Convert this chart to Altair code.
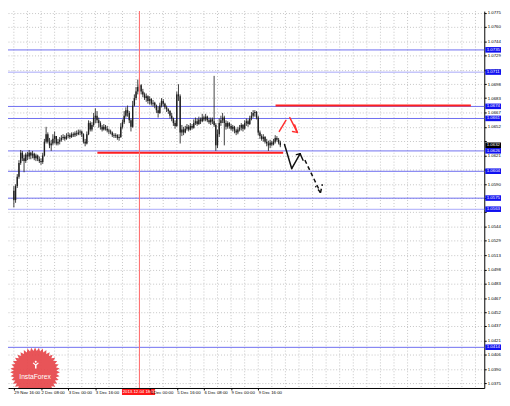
import json
import math
import altair as alt
import pandas as pd

# ---------------- data ----------------
first_open = 1.0583
closes = [1.0573, 1.0588, 1.0598, 1.0613, 1.0624, 1.0618, 1.0615, 1.0622, 1.0620, 1.0624,
          1.0621, 1.0623, 1.0618, 1.0621, 1.0617, 1.0615, 1.0614, 1.0621, 1.0636, 1.0644,
          1.0636, 1.0632, 1.0634, 1.0639, 1.0642, 1.0634, 1.0636, 1.0638, 1.0640, 1.0641,
          1.0639, 1.0642, 1.0643, 1.0641, 1.0644, 1.0643, 1.0645, 1.0644, 1.0646, 1.0647,
          1.0644, 1.0636, 1.0634, 1.0644, 1.0656, 1.0649, 1.0654, 1.0662, 1.0664, 1.0659,
          1.0656, 1.0652, 1.0649, 1.0652, 1.0650, 1.0648, 1.0647, 1.0646, 1.0643, 1.0642,
          1.0643, 1.0640, 1.0641, 1.0652, 1.0657, 1.0664, 1.0670, 1.0667, 1.0659, 1.0652,
          1.0675, 1.0683, 1.0690, 1.0695, 1.0697, 1.0690, 1.0687, 1.0683, 1.0685, 1.0680,
          1.0682, 1.0677, 1.0678, 1.0675, 1.0670, 1.0667, 1.0675, 1.0680, 1.0677, 1.0673,
          1.0671, 1.0669, 1.0664, 1.0661, 1.0656, 1.0653, 1.0687, 1.0685, 1.0646, 1.0649,
          1.0646, 1.0650, 1.0652, 1.0649, 1.0653, 1.0651, 1.0656, 1.0658, 1.0655, 1.0660,
          1.0658, 1.0662, 1.0660, 1.0663, 1.0659, 1.0657, 1.0660, 1.0658, 1.0654, 1.0632,
          1.0644, 1.0656, 1.0659, 1.0662, 1.0656, 1.0652, 1.0656, 1.0653, 1.0650, 1.0652,
          1.0648, 1.0646, 1.0649, 1.0651, 1.0654, 1.0650, 1.0656, 1.0658, 1.0655, 1.0661,
          1.0664, 1.0667, 1.0668, 1.0662, 1.0646, 1.0642, 1.0639, 1.0641, 1.0636, 1.0634,
          1.0632, 1.0635, 1.0633, 1.0636, 1.0640, 1.0638, 1.0635, 1.0632]
highs = [1.0588, 1.0590, 1.0601, 1.0616, 1.0627, 1.0626, 1.0622, 1.0624, 1.0625, 1.0627,
         1.0625, 1.0626, 1.0624, 1.0623, 1.0622, 1.0620, 1.0618, 1.0624, 1.0639, 1.0652,
         1.0646, 1.0640, 1.0638, 1.0644, 1.0647, 1.0642, 1.0639, 1.0641, 1.0643, 1.0644,
         1.0643, 1.0645, 1.0646, 1.0645, 1.0646, 1.0646, 1.0647, 1.0648, 1.0649, 1.0649,
         1.0648, 1.0645, 1.0639, 1.0647, 1.0659, 1.0658, 1.0657, 1.0667, 1.0672, 1.0669,
         1.0662, 1.0658, 1.0654, 1.0655, 1.0654, 1.0653, 1.0650, 1.0649, 1.0647, 1.0645,
         1.0645, 1.0644, 1.0644, 1.0656, 1.0660, 1.0669, 1.0673, 1.0675, 1.0669, 1.0661,
         1.0680, 1.0687, 1.0695, 1.0703, 1.0705, 1.0698, 1.0693, 1.0689, 1.0688, 1.0686,
         1.0685, 1.0683, 1.0681, 1.0679, 1.0676, 1.0674, 1.0678, 1.0683, 1.0682, 1.0678,
         1.0675, 1.0672, 1.0670, 1.0667, 1.0662, 1.0659, 1.0690, 1.0698, 1.0687, 1.0654,
         1.0652, 1.0653, 1.0655, 1.0654, 1.0656, 1.0655, 1.0660, 1.0662, 1.0661, 1.0663,
         1.0662, 1.0666, 1.0664, 1.0666, 1.0664, 1.0662, 1.0662, 1.0662, 1.0707, 1.0656,
         1.0649, 1.0661, 1.0664, 1.0667, 1.0664, 1.0659, 1.0658, 1.0657, 1.0655, 1.0654,
         1.0653, 1.0650, 1.0652, 1.0654, 1.0656, 1.0655, 1.0659, 1.0661, 1.0660, 1.0664,
         1.0668, 1.0670, 1.0670, 1.0669, 1.0664, 1.0648, 1.0644, 1.0644, 1.0642, 1.0639,
         1.0637, 1.0638, 1.0637, 1.0639, 1.0643, 1.0642, 1.0640, 1.0637]
lows = [1.0565, 1.0570, 1.0586, 1.0596, 1.0611, 1.0615, 1.0603, 1.0613, 1.0616, 1.0617,
        1.0617, 1.0618, 1.0616, 1.0615, 1.0615, 1.0613, 1.0611, 1.0612, 1.0620, 1.0634,
        1.0634, 1.0629, 1.0626, 1.0632, 1.0634, 1.0632, 1.0632, 1.0633, 1.0636, 1.0638,
        1.0637, 1.0638, 1.0640, 1.0639, 1.0640, 1.0641, 1.0641, 1.0642, 1.0643, 1.0643,
        1.0641, 1.0634, 1.0631, 1.0633, 1.0643, 1.0647, 1.0647, 1.0652, 1.0656, 1.0656,
        1.0651, 1.0649, 1.0647, 1.0648, 1.0648, 1.0646, 1.0644, 1.0644, 1.0641, 1.0640,
        1.0640, 1.0638, 1.0637, 1.0640, 1.0650, 1.0655, 1.0662, 1.0663, 1.0656, 1.0647,
        1.0651, 1.0674, 1.0681, 1.0687, 1.0690, 1.0687, 1.0684, 1.0681, 1.0679, 1.0677,
        1.0676, 1.0675, 1.0674, 1.0672, 1.0667, 1.0662, 1.0666, 1.0673, 1.0674, 1.0671,
        1.0668, 1.0666, 1.0661, 1.0658, 1.0653, 1.0650, 1.0652, 1.0680, 1.0634, 1.0642,
        1.0643, 1.0645, 1.0648, 1.0647, 1.0648, 1.0649, 1.0650, 1.0654, 1.0653, 1.0654,
        1.0655, 1.0657, 1.0658, 1.0658, 1.0657, 1.0655, 1.0654, 1.0655, 1.0652, 1.0626,
        1.0629, 1.0641, 1.0653, 1.0656, 1.0632, 1.0649, 1.0650, 1.0650, 1.0648, 1.0647,
        1.0645, 1.0643, 1.0644, 1.0647, 1.0648, 1.0647, 1.0649, 1.0653, 1.0652, 1.0654,
        1.0659, 1.0662, 1.0663, 1.0660, 1.0643, 1.0639, 1.0637, 1.0636, 1.0634, 1.0631,
        1.0626, 1.0629, 1.0631, 1.0632, 1.0634, 1.0636, 1.0633, 1.0630]
opens = [first_open] + closes[:-1]
bars = list(range(len(closes)))

# time labels every 16 hourly bars ("4 Dec 08:00" is hidden under the red marker)
time_ticks = [0, 16, 32, 48, 80, 96, 112, 128, 144]
time_labels = ["29 Nov 16:00", "2 Dec 08:00", "3 Dec 00:00", "3 Dec 16:00",
               "5 Dec 00:00", "5 Dec 16:00", "6 Dec 08:00", "9 Dec 00:00", "9 Dec 16:00"]
price_ticks = [1.0775, 1.0760, 1.0744, 1.0729, 1.0713, 1.0698, 1.0683, 1.0667, 1.0652,
               1.0637, 1.0621, 1.0606, 1.0590, 1.0575, 1.0560, 1.0544, 1.0529, 1.0513,
               1.0498, 1.0483, 1.0467, 1.0452, 1.0437, 1.0421, 1.0406, 1.0390, 1.0375]
# scale labels that sit under the coloured price boxes
hidden_ticks = [1.0637, 1.0606, 1.0575, 1.0560]
grid_bars = list(range(0, 273, 8))

level_prices = [1.0735, 1.0711, 1.0674, 1.0661, 1.0626, 1.0604, 1.0575, 1.0563, 1.0414]
level_colors = ["#6e6ef0", "#a8a8fa", "#6e6ef0", "#6e6ef0", "#6e6ef0", "#6e6ef0",
                "#6e6ef0", "#a8a8fa", "#6e6ef0"]

res_start, res_end, res_price = 154.2, 269.3, 1.0675
sup_start, sup_end, sup_price = 49.2, 158.7, 1.0624
vline_bar = 74
vline_label = "2013.12.04 18:00"
vlabel_from, vlabel_to = 63.7, 83.2

red_seg = [(156.4, 1.0647, 160.3, 1.0659), (162.6, 1.0662, 167.0, 1.0646),
           (167.0, 1.0646, 165.5, 1.0654), (167.0, 1.0646, 164.2, 1.0647)]
black_seg = [(159.5, 1.0633, 163.7, 1.0607), (163.7, 1.0607, 168.7, 1.0623),
             (168.7, 1.0623, 166.5, 1.0622), (168.7, 1.0623, 170.4, 1.0616)]
dash_seg = [(171.5, 1.0616, 180.7, 1.0581), (180.7, 1.0581, 177.7, 1.0588),
            (180.7, 1.0581, 181.8, 1.0590)]

logo_bar, logo_price = 12.5, 1.03871
logo_text_price = 1.03818
logo_icon_price = 1.03954

# ---------------- chart ----------------
FONT = "Liberation Sans"
W, H = 484, 383
xs = alt.Scale(domain=[-0.56, 274.3], nice=False, zero=False)
ys = alt.Scale(domain=[1.03701, 1.07769], nice=False, zero=False)

lab_map = {str(t): l for t, l in zip(time_ticks, time_labels)}
label_expr = json.dumps(lab_map).replace('"', "'") + "[toString(datum.value)]"
hide_cond = " || ".join(f"abs(datum.value - {h}) < 0.00001" for h in hidden_ticks)
y_label_expr = f"({hide_cond}) ? '' : format(datum.value, '.4f')"

x_axis = alt.Axis(values=time_ticks, labelExpr=label_expr, labelAlign="left",
                  labelFontSize=4.4, labelFont=FONT, labelColor="black", tickSize=2,
                  tickColor="black", domainColor="black", labelPadding=1, grid=False,
                  labelFlush=False, labelOverlap=False, title="", zindex=1)
y_axis = alt.Axis(orient="right", values=price_ticks, labelExpr=y_label_expr,
                  labelFontSize=4.4, labelFont=FONT, labelColor="black", tickSize=2,
                  tickColor="black", domainColor="black", labelPadding=1, grid=True,
                  gridDash=[1, 2], gridColor="#c4c4c4", labelOverlap=False, title="")


def X(f):
    return alt.X(f, type="quantitative", scale=xs, axis=x_axis)


def Y(f):
    return alt.Y(f, type="quantitative", scale=ys, axis=y_axis)


cdf = pd.DataFrame({"i": bars, "o": opens, "h": highs, "l": lows, "c": closes})

wicks = alt.Chart(cdf).mark_rule(color="#2a2a2a", strokeWidth=0.9).encode(
    x=X("i"), y=Y("l"), y2="h")
bodies = alt.Chart(cdf).mark_bar(color="#1e1e1e", size=1.4).encode(
    x=X("i"), y=Y("o"), y2="c")

vgrid = alt.Chart(pd.DataFrame({"g": grid_bars})).mark_rule(
    color="#c4c4c4", strokeDash=[1, 2], strokeWidth=1).encode(x=X("g"))

ldf = pd.DataFrame({"p": level_prices, "col": level_colors})
levels = alt.Chart(ldf).mark_rule(strokeWidth=1).encode(
    y=Y("p"), color=alt.Color("col:N", scale=None))

vline = alt.Chart(pd.DataFrame({"v": [vline_bar]})).mark_rule(
    color="#ff7272", strokeWidth=1.1, opacity=1).encode(x=X("v"))

rdf = pd.DataFrame({"a": [res_start, sup_start], "b": [res_end, sup_end],
                    "p": [res_price, sup_price]})
redlines = alt.Chart(rdf).mark_rule(color="#ff2020", strokeWidth=2).encode(
    x=X("a"), x2="b", y=Y("p"))


def segs(lst, color, dash=None):
    df = pd.DataFrame(lst, columns=["x1", "y1", "x2", "y2"])
    kw = dict(color=color, strokeWidth=1.5, strokeCap="round")
    if dash:
        kw["strokeDash"] = dash
        kw["strokeCap"] = "butt"
    return alt.Chart(df).mark_rule(**kw).encode(x=X("x1"), y=Y("y1"), x2="x2", y2="y2")


arrows_red = segs(red_seg, "#ff3030")
arrows_black = segs(black_seg, "#111111")
arrows_dash = segs(dash_seg, "#111111", [4, 3])

# InstaForex badge
n = 40
pts = []
for k in range(2 * n):
    r = 1.0 if k % 2 == 0 else 0.86
    a = math.pi * k / n
    pts.append(f"{r * math.sin(a):.3f},{-r * math.cos(a):.3f}")
star_path = "M" + " L".join(pts) + " Z"
icon_path = ("M-0.25,-0.75 A0.25,0.25 0 1,1 0.25,-0.75 A0.25,0.25 0 1,1 -0.25,-0.75 Z "
             "M-0.8,-0.35 L-0.2,0.15 L-0.2,1 L0.2,1 L0.2,0.15 L0.8,-0.35 L0.6,-0.55 "
             "L0,-0.05 L-0.6,-0.55 Z")
logo_df = pd.DataFrame({"i": [logo_bar], "p": [logo_price]})
logo = alt.Chart(logo_df).mark_point(shape=star_path, size=2550, filled=True,
                                     fill="#e6454a", fillOpacity=0.92, strokeWidth=0,
                                     clip=True).encode(x=X("i"), y=Y("p"))
logo_txt = alt.Chart(pd.DataFrame({"i": [logo_bar], "p": [logo_text_price],
                                   "t": ["InstaForex"]})).mark_text(
    color="white", fontSize=6.8, font=FONT, baseline="middle", align="center").encode(
    x=X("i"), y=Y("p"), text="t:N")
logo_icon = alt.Chart(pd.DataFrame({"i": [logo_bar + 0.4], "p": [logo_icon_price]})).mark_point(
    shape=icon_path, size=60, filled=True, fill="white", strokeWidth=0, opacity=1).encode(
    x=X("i"), y=Y("p"))

# price boxes on the right scale
box_prices = level_prices + [closes[-1]]
box_colors = ["#1010f0"] * len(level_prices) + ["#000000"]
bdf = pd.DataFrame({"p": box_prices, "col": box_colors,
                    "lab": [f"{p:.4f}" for p in box_prices]})
bdf["top"] = bdf["p"] + 0.00031
bdf["bot"] = bdf["p"] - 0.00029
boxes = alt.Chart(bdf).mark_rect().encode(
    x=alt.value(485), x2=alt.value(501), y=Y("top"), y2="bot",
    color=alt.Color("col:N", scale=None))
box_txt = alt.Chart(bdf).mark_text(color="white", fontSize=4.4, font=FONT, align="left",
                                   baseline="middle").encode(
    x=alt.value(486.5), y=Y("p"), text="lab:N")

# time label of the vertical line
tdf = pd.DataFrame({"a": [vlabel_from], "b": [vlabel_to], "m": [vline_bar], "t": [vline_label]})
tbox = alt.Chart(tdf).mark_rect(color="#ff1a1a").encode(
    x=X("a"), x2="b", y=alt.value(384), y2=alt.value(390))
ttxt = alt.Chart(tdf).mark_text(color="white", fontSize=4.4, font=FONT, align="center",
                                baseline="middle").encode(
    x=X("m"), y=alt.value(387.2), text="t:N")

chart = alt.layer(
    vgrid, levels, wicks, logo, logo_txt, logo_icon, redlines, bodies, vline,
    arrows_red, arrows_black, arrows_dash, boxes, box_txt, tbox, ttxt
).properties(
    width=W, height=H, background="white",
    padding={"left": 0, "top": 0, "right": 18, "bottom": 7},
    autosize=alt.AutoSizeParams(type="none"),
).configure_view(strokeWidth=0)

chart.save("out.html", embed_options={"renderer": "svg", "actions": False})
